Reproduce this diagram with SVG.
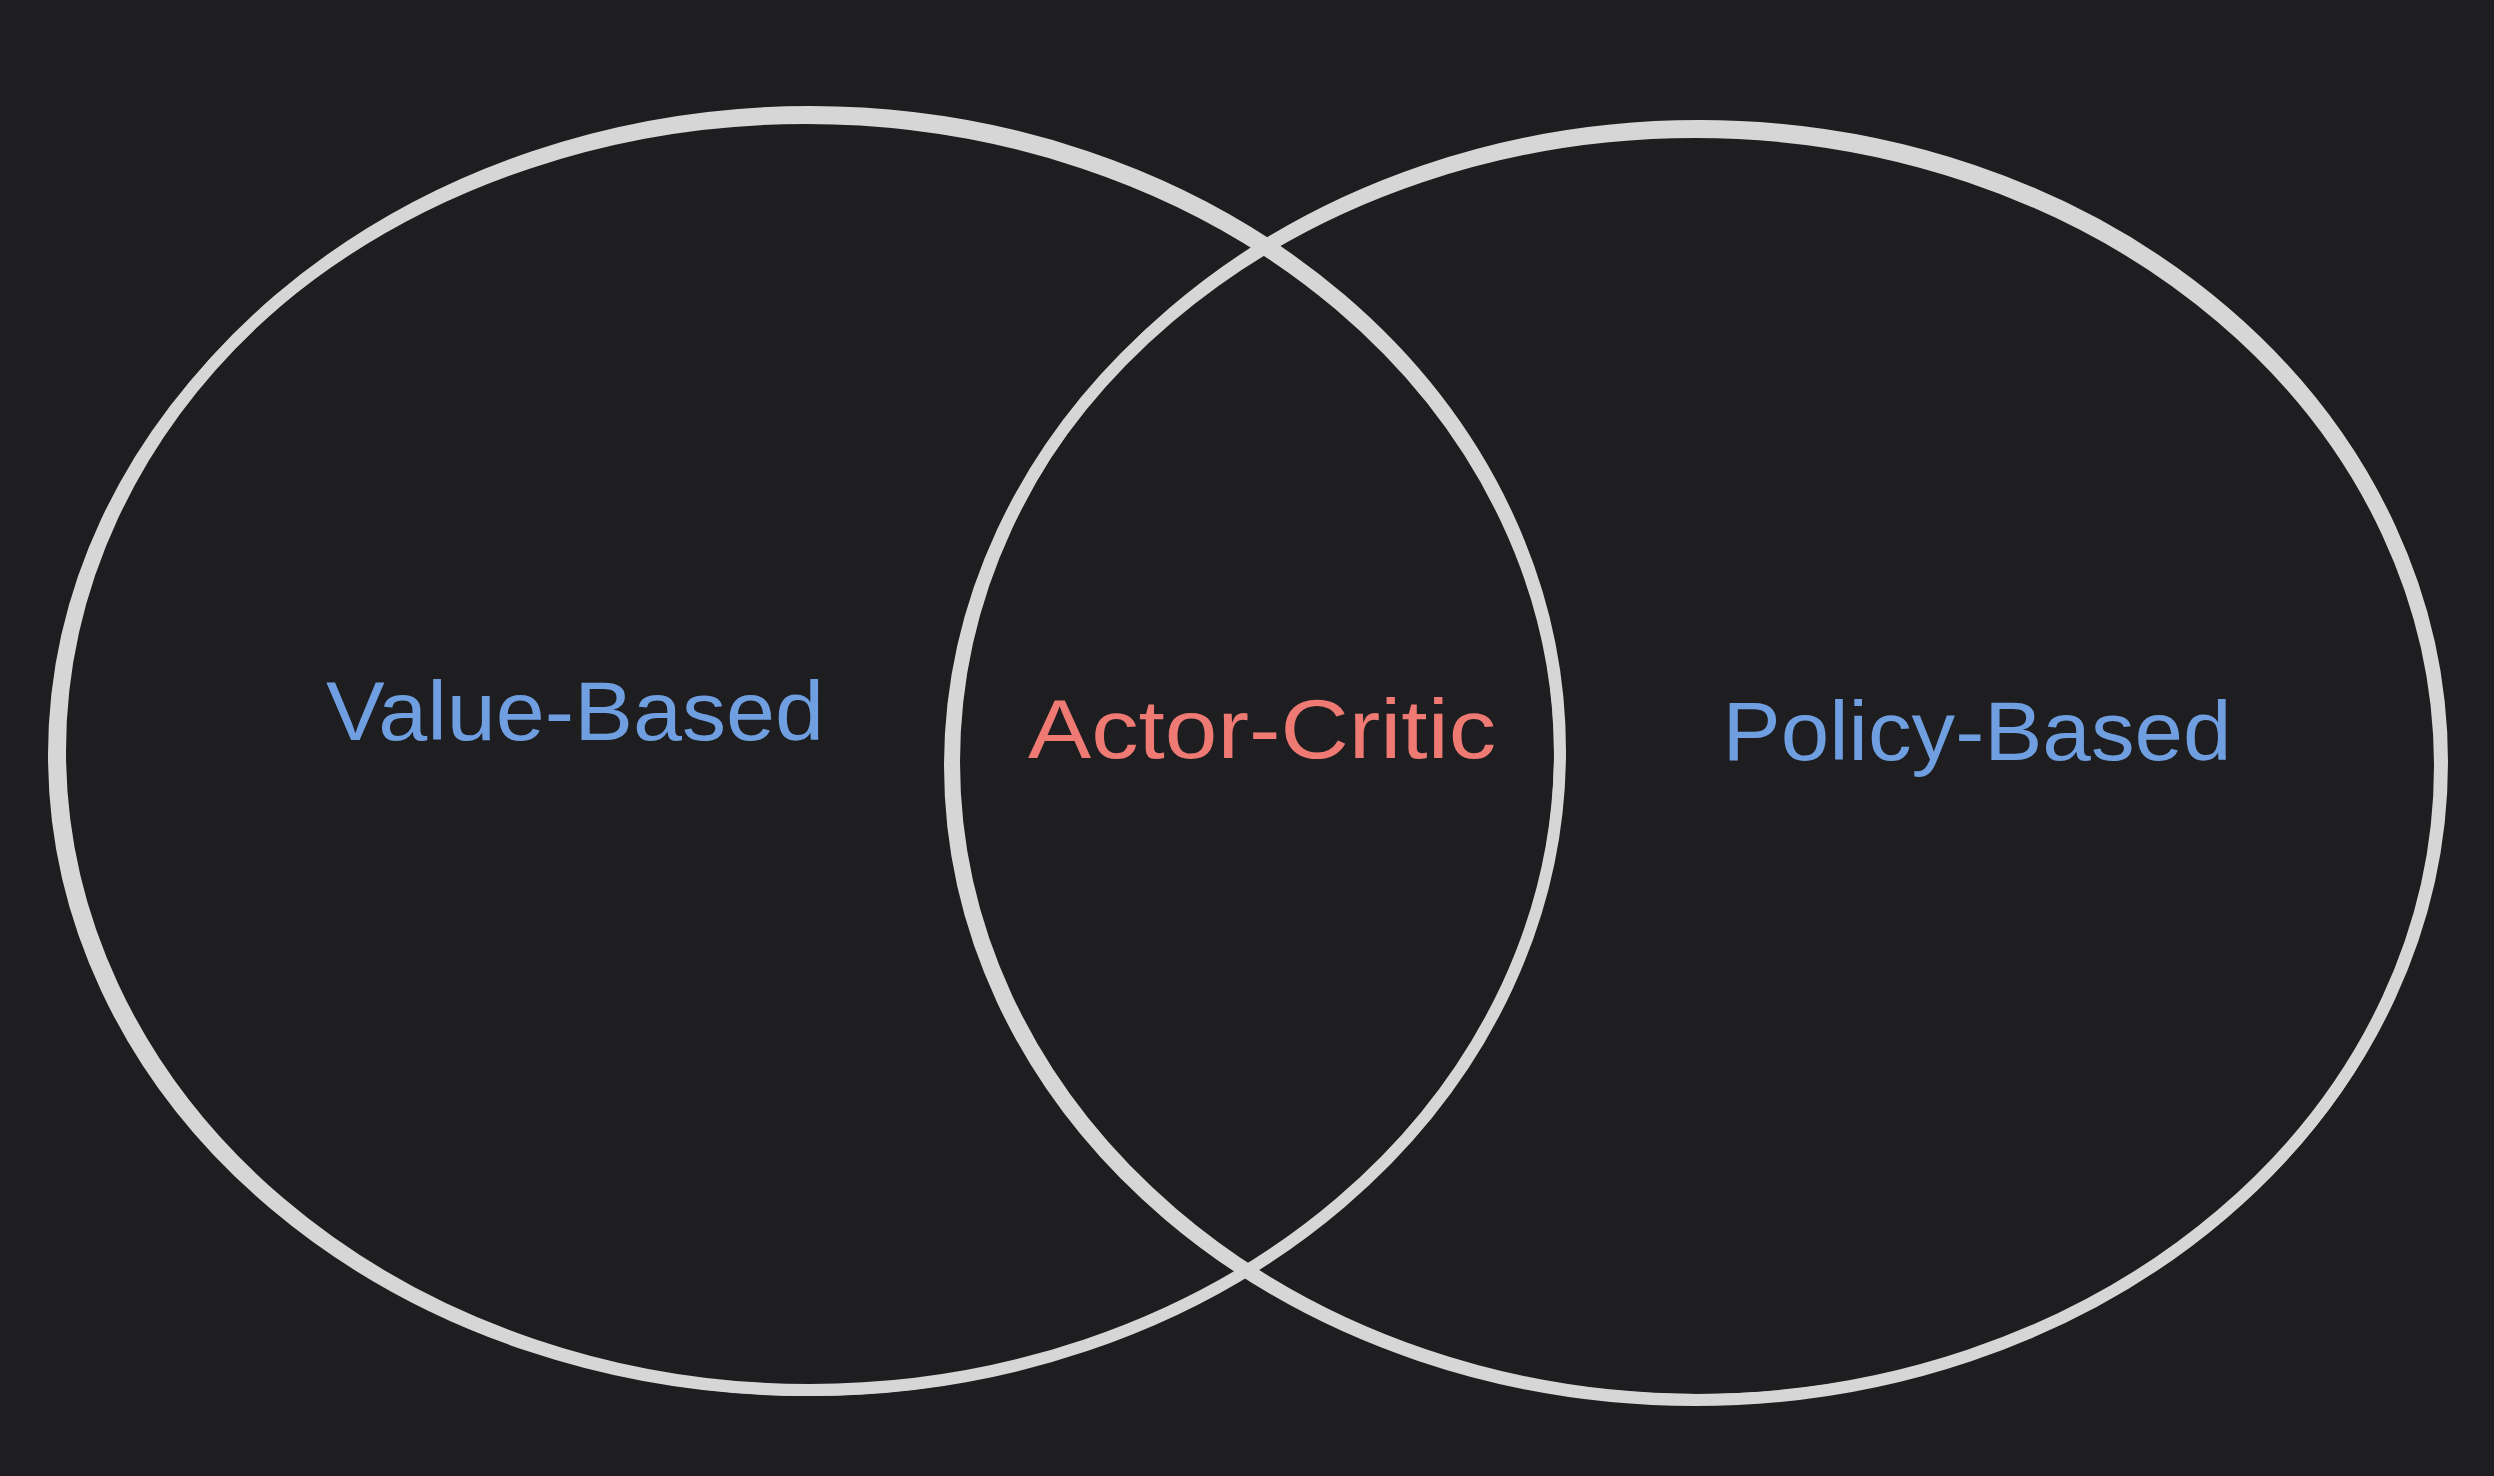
<svg xmlns="http://www.w3.org/2000/svg" width="2494" height="1476" viewBox="0 0 2494 1476">
<style>
.ring{fill:none;stroke:#d6d6d6;stroke-width:12}
.ring2{fill:none;stroke:#d6d6d6;stroke-width:10}
.lbl{font-family:"Liberation Sans","DejaVu Sans",sans-serif;font-size:84px;text-anchor:middle}
.blue{fill:#6f9fe0}
.red{fill:#ef7a74}
</style>
<rect width="2494" height="1476" fill="#1e1e20"/>
<g id="value-based">
<ellipse class="ring" cx="810" cy="751" rx="750" ry="639"/>
<ellipse class="ring2" cx="806" cy="755" rx="753" ry="636"/>
<text class="lbl blue" x="575" y="740" textLength="498" lengthAdjust="spacingAndGlyphs">Value-Based</text>
</g>
<g id="policy-based">
<ellipse class="ring" cx="1695" cy="766" rx="745" ry="634"/>
<ellipse class="ring2" cx="1699" cy="762" rx="744" ry="637"/>
<text class="lbl blue" x="1977" y="760" textLength="509" lengthAdjust="spacingAndGlyphs">Policy-Based</text>
</g>
<g id="actor-critic">
<text class="lbl red" x="1262" y="758" font-size="86" textLength="468" lengthAdjust="spacingAndGlyphs">Actor-Critic</text>
</g>
<g id="connectors"/>
</svg>
